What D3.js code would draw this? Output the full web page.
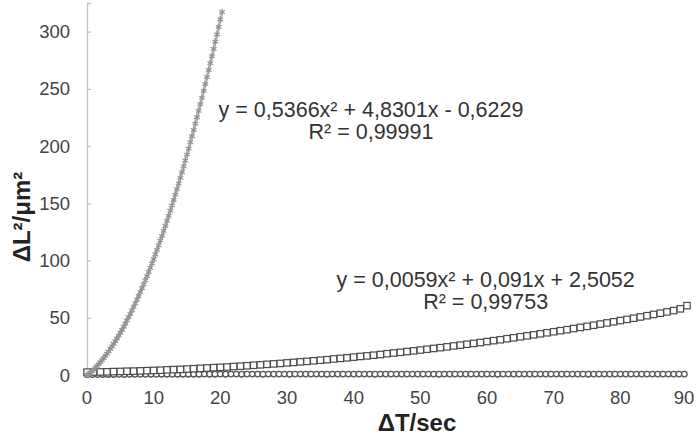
<!DOCTYPE html>
<html>
<head>
<meta charset="utf-8">
<script src="https://cdn.jsdelivr.net/npm/d3@7"></script>
<style>
body { margin: 0; background: #fff; }
svg { display: block; font-family: "Liberation Sans", Arial, sans-serif; }
</style>
</head>
<body>
<svg id="chart" width="700" height="435"></svg>
<script>
// star series: [time s, dL^2 um^2]
var starPts = [
  [0,0.2],[0.25,0.6],[0.5,1.9],[0.75,3.3],[1,4.7],[1.25,6.2],[1.5,7.8],[1.75,9.5],[2,11.2],[2.25,13.0],
  [2.5,14.8],[2.75,16.7],[3,18.7],[3.25,20.7],[3.5,22.9],[3.75,25.0],[4,27.3],[4.25,29.6],[4.5,32.0],[4.75,34.4],
  [5,36.9],[5.25,39.5],[5.5,42.2],[5.75,44.9],[6,47.7],[6.25,50.5],[6.5,53.4],[6.75,56.4],[7,59.5],[7.25,62.6],
  [7.5,65.8],[7.75,69.0],[8,72.4],[8.25,75.8],[8.5,79.2],[8.75,82.7],[9,86.3],[9.25,90.0],[9.5,93.7],[9.75,97.5],
  [10,101.3],[10.25,105.3],[10.5,109.3],[10.75,113.3],[11,117.4],[11.25,121.6],[11.5,125.9],[11.75,130.2],[12,134.6],[12.25,139.1],
  [12.5,143.6],[12.75,148.2],[13,152.9],[13.25,157.6],[13.5,162.4],[13.75,167.2],[14,172.2],[14.25,177.2],[14.5,182.2],[14.75,187.4],
  [15,192.6],[15.25,197.8],[15.5,203.2],[15.75,208.6],[16,214.0],[16.25,219.6],[16.5,225.2],[16.75,230.8],[17,236.6],[17.25,242.4],
  [17.5,248.2],[17.75,254.2],[18,260.2],[18.25,266.3],[18.5,272.4],[18.75,278.6],[19,284.9],[19.25,291.2],[19.5,297.6],[19.75,304.1],
  [20,310.6],[20.25,317.2]
];

// square series: [time s, dL^2 um^2]
var squarePts = [
  [0,2.5],[1,2.6],[2,2.7],[3,2.8],[4,3.0],[5,3.1],[6,3.3],[7,3.4],[8,3.6],[9,3.8],
  [10,4.0],[11,4.2],[12,4.5],[13,4.7],[14,4.9],[15,5.2],[16,5.5],[17,5.8],[18,6.1],[19,6.4],
  [20,6.7],[21,7.0],[22,7.4],[23,7.7],[24,8.1],[25,8.5],[26,8.9],[27,9.3],[28,9.7],[29,10.1],
  [30,10.6],[31,11.0],[32,11.5],[33,11.9],[34,12.4],[35,12.9],[36,13.4],[37,14.0],[38,14.5],[39,15.0],
  [40,15.6],[41,16.2],[42,16.7],[43,17.3],[44,17.9],[45,18.6],[46,19.2],[47,19.8],[48,20.5],[49,21.1],
  [50,21.8],[51,22.5],[52,23.2],[53,23.9],[54,24.6],[55,25.4],[56,26.1],[57,26.9],[58,27.6],[59,28.4],
  [60,29.2],[61,30.0],[62,30.8],[63,31.7],[64,32.5],[65,33.4],[66,34.2],[67,35.1],[68,36.0],[69,36.9],
  [70,37.8],[71,38.7],[72,39.6],[73,40.6],[74,41.6],[75,42.5],[76,43.5],[77,44.5],[78,45.5],[79,46.5],
  [80,47.6],[81,48.6],[82,49.6],[83,50.7],[84,51.8],[85,52.9],[86,54.0],[87,55.1],[88,56.3],[89,57.8],
  [90,60.6]
];

// circle series, nearly flat
var circleTimes = [
  0,0.8,1.6,2.4,3.2,4,4.8,5.6,6.4,7.2,8,8.8,9.6,10.4,11.2,12,12.8,13.6,14.4,15.2,
  16,16.8,17.6,18.4,19.2,20,20.8,21.6,22.4,23.2,24,24.8,25.6,26.4,27.2,28,28.8,29.6,30.4,31.2,
  32,32.8,33.6,34.4,35.2,36,36.8,37.6,38.4,39.2,40,40.8,41.6,42.4,43.2,44,44.8,45.6,46.4,47.2,
  48,48.8,49.6,50.4,51.2,52,52.8,53.6,54.4,55.2,56,56.8,57.6,58.4,59.2,60,60.8,61.6,62.4,63.2,
  64,64.8,65.6,66.4,67.2,68,68.8,69.6,70.4,71.2,72,72.8,73.6,74.4,75.2,76,76.8,77.6,78.4,79.2,
  80,80.8,81.6,82.4,83.2,84,84.8,85.6,86.4,87.2,88,88.8,89.6
];
var circleValues = [
  0.3,0.4,0.4,0.5,0.5,0.5,0.6,0.5,0.6,0.6,0.6,0.6,0.7,0.6,0.7,0.7,0.6,0.7,0.7,0.7,
  0.7,0.7,0.8,0.7,0.7,0.8,0.7,0.8,0.8,0.7,0.8,0.8,0.8,0.7,0.8,0.8,0.8,0.8,0.7,0.8,
  0.8,0.8,0.8,0.8,0.8,0.7,0.8,0.8,0.8,0.8,0.8,0.8,0.8,0.8,0.7,0.8,0.8,0.8,0.8,0.8,
  0.8,0.8,0.8,0.8,0.8,0.8,0.7,0.8,0.8,0.8,0.8,0.8,0.8,0.8,0.8,0.8,0.8,0.7,0.8,0.8,
  0.8,0.8,0.8,0.8,0.8,0.8,0.8,0.8,0.8,0.8,0.8,0.8,0.8,0.8,0.7,0.8,0.8,0.8,0.8,0.8,
  0.8,0.8,0.8,0.8,0.8,0.8,0.8,0.8,0.8,0.8,0.8,0.8,0.8
];

var xTicks = [0,10,20,30,40,50,60,70,80,90];
var yTicks = [0,50,100,150,200,250,300];

// trendline labels, anchored in data units (centre, baseline)
var fits = [
  {eq: "y = 0,5366x\u00B2 + 4,8301x - 0,6229", r2: "R\u00B2 = 0,99991", at: [42.6, 225]},
  {eq: "y = 0,0059x\u00B2 + 0,091x + 2,5052", r2: "R\u00B2 = 0,99753", at: [59.8, 77]}
];

var svg = d3.select("#chart");
var x = d3.scaleLinear().domain([0, 90]).range([87, 687]);
var y = d3.scaleLinear().domain([0, 325]).range([375, 3]);

// y axis
var yAxis = svg.append("g").attr("transform", "translate(" + x(0) + ",0)")
  .call(d3.axisRight(y).tickValues(yTicks).tickSize(4).tickFormat(""));
yAxis.selectAll("line,path").attr("stroke", "#c0c0c0").attr("stroke-width", 1.3);
svg.append("g").selectAll("text").data(yTicks).enter().append("text")
  .attr("x", 70).attr("y", function(d){ return y(d) + 6.5; })
  .attr("text-anchor", "end").attr("font-size", 18.5).attr("fill", "#444")
  .text(function(d){ return d; });

// x axis
svg.append("line").attr("x1", x(0)).attr("x2", x(90)).attr("y1", y(0)).attr("y2", y(0))
  .attr("stroke", "#c0c0c0").attr("stroke-width", 1.3);
svg.append("g").selectAll("text").data(xTicks).enter().append("text")
  .attr("x", function(d){ return d == 90 ? x(d) - 3 : x(d); }).attr("y", 404)
  .attr("text-anchor", "middle").attr("font-size", 18.5).attr("fill", "#444")
  .text(function(d){ return d; });

// axis titles
svg.append("text").attr("x", 417).attr("y", 431).attr("text-anchor", "middle")
  .attr("font-size", 24).attr("font-weight", "bold").attr("fill", "#222").text("\u0394T/sec");
svg.append("text").attr("transform", "translate(30,217) rotate(-90)").attr("text-anchor", "middle")
  .attr("font-size", 24).attr("font-weight", "bold").attr("fill", "#222").text("\u0394L\u00B2/\u03BCm\u00B2");

// trend lines through the points
var line = d3.line().x(function(d){ return x(d[0]); }).y(function(d){ return y(d[1]); }).curve(d3.curveBasis);
svg.append("path").datum(starPts).attr("d", line).attr("fill", "none").attr("stroke", "#bcbcbc").attr("stroke-width", 3);
svg.append("path").datum(squarePts).attr("d", line).attr("fill", "none").attr("stroke", "#b0b0b0").attr("stroke-width", 1.5);

// circles
svg.append("g").selectAll("circle").data(circleTimes).enter().append("circle")
  .attr("cx", function(d){ return x(d); })
  .attr("cy", function(d, i){ return y(circleValues[i]); })
  .attr("r", 2.8).attr("fill", "#fff").attr("stroke", "#555").attr("stroke-width", 1.3);

// squares
svg.append("g").selectAll("rect").data(squarePts).enter().append("rect")
  .attr("x", function(d){ return x(d[0]) - 3.2; })
  .attr("y", function(d){ return y(d[1]) - 3.2; })
  .attr("width", 6.4).attr("height", 6.4)
  .attr("fill", "#fff").attr("stroke", "#4a4a4a").attr("stroke-width", 1.2);

// stars
var star = d3.symbol().type(d3.symbolAsterisk).size(30);
svg.append("g").selectAll("path").data(starPts).enter().append("path")
  .attr("d", star)
  .attr("transform", function(d){ return "translate(" + x(d[0]) + "," + y(d[1]) + ")"; })
  .attr("fill", "none").attr("stroke", "#939393").attr("stroke-width", 1.2);

// fit labels
fits.forEach(function(f){
  var cx = x(f.at[0]), cy = y(f.at[1]);
  svg.append("text").attr("x", cx).attr("y", cy).attr("text-anchor", "middle")
    .attr("font-size", 21.5).attr("fill", "#333").text(f.eq);
  svg.append("text").attr("x", cx).attr("y", cy + 22).attr("text-anchor", "middle")
    .attr("font-size", 21.5).attr("fill", "#333").text(f.r2);
});
</script>
</body>
</html>
